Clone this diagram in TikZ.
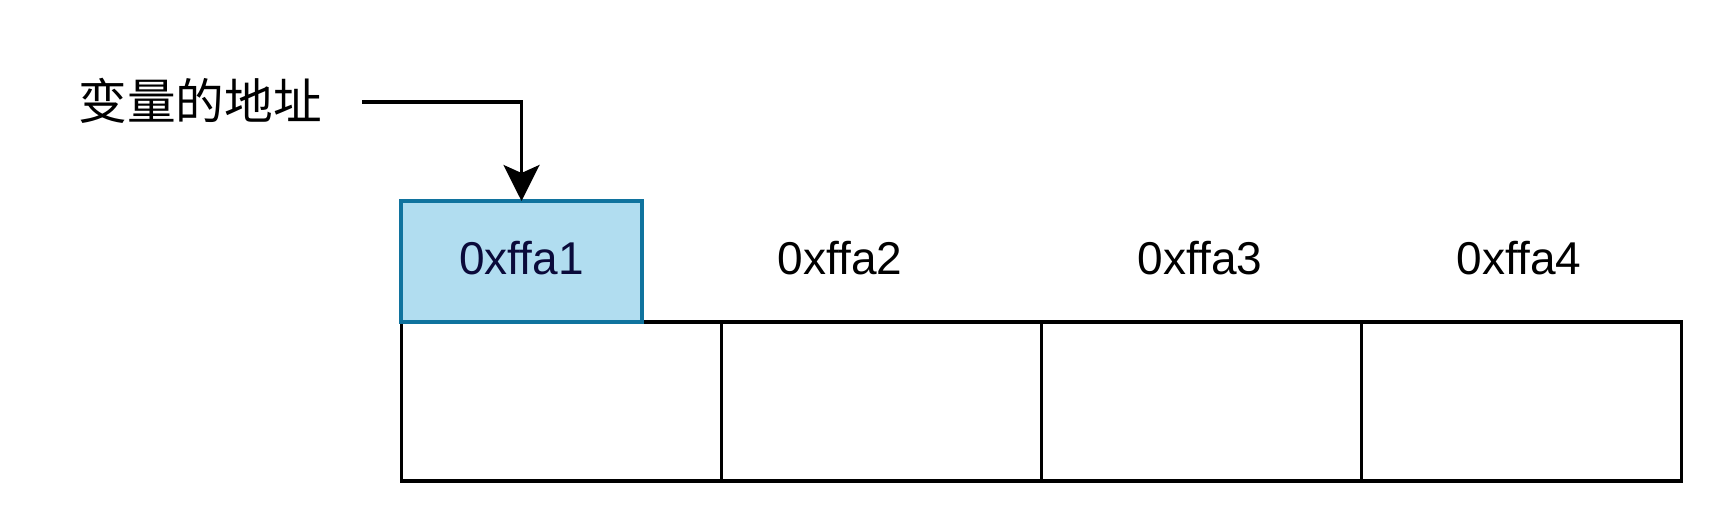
\documentclass[tikz,border=0pt]{standalone}
\usepackage{fontspec}
\setmainfont{Liberation Sans}
\newfontfamily\cjk{Noto Sans CJK SC}
\usepackage{xcolor}
\usetikzlibrary{arrows.meta,positioning}

\definecolor{addrfill}{HTML}{B1DDF0}
\definecolor{addrline}{HTML}{10739E}
\definecolor{addrtext}{HTML}{0A0A3A}

\begin{document}
\begin{tikzpicture}[x=0.75pt, y=-0.75pt, arrow/.style = {line width=2.5pt,-{Stealth[length=27pt,width=27pt,inset=6pt]}}, font=\fontsize{34.5}{40}\selectfont]
		\tikzset{cell/.style={draw,rectangle,line width=2.5pt,outer sep=0pt,minimum width=240pt,minimum height=119.25pt}}

		\useasboundingbox (0,0) rectangle (1724,524);

		% Memory cells
		\node[cell] (cell1) at (561.5,401.5) {};
		\node[cell, right=0pt of cell1] (cell2) {};
		\node[cell, right=0pt of cell2] (cell3) {};
		\node[cell, right=0pt of cell3] (cell4) {};

		% Addresses
		\node[draw=addrline, fill=addrfill, line width=2.5pt, outer sep=0pt, minimum width=180.75pt, minimum height=90.75pt] (addr1) at (521.5,261.5) {};
		\node[text=addrtext] (addr1text) at (521.5,258) {0xffa1};

		\node (addr2) at (840,258) {0xffa2};

		\node (addr3) at (1200,258) {0xffa3};

		\node (addr4) at (1519,258) {0xffa4};

		% Label
		\node[font=\cjk\fontsize{36.5}{40}\selectfont] (varaddr) at (200,101) {变量的地址};

		% Arrow
		\coordinate (from) at (362,102);
		\draw [arrow] (from) -| (addr1.north);

	\end{tikzpicture}
\end{document}
